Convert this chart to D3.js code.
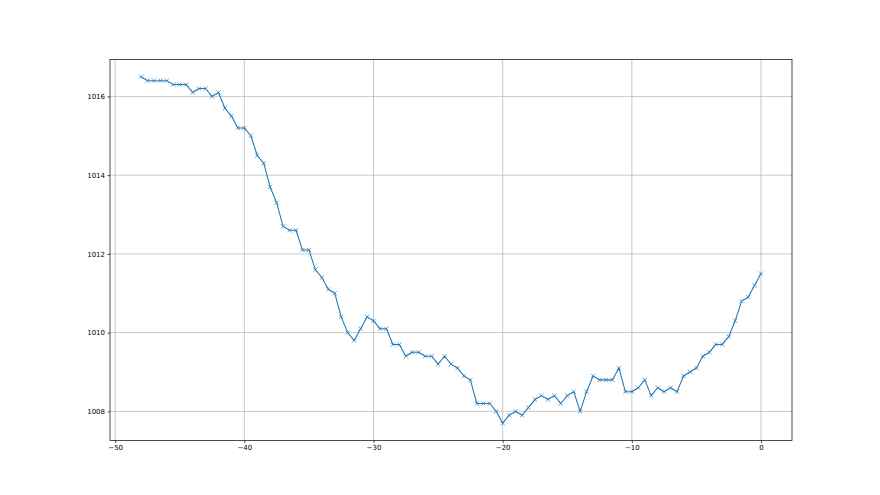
<!DOCTYPE html>
<html>
<head>
<meta charset="utf-8">
<script src="https://cdn.jsdelivr.net/npm/d3@7"></script>
<style>
  html, body { margin: 0; padding: 0; background: #fff; }
  svg text { font-family: "DejaVu Sans", sans-serif; }
</style>
</head>
<body>
<div id="chart"></div>
<script>
// x runs from -48 to 0 in steps of 0.5
const xValues = d3.range(97).map(i => -48 + i * 0.5);
const pressure = [
  1016.5, 1016.4, 1016.4, 1016.4, 1016.4, 1016.3, 1016.3, 1016.3, 1016.1, 1016.2,
  1016.2, 1016.0, 1016.1, 1015.7, 1015.5, 1015.2, 1015.2, 1015.0, 1014.5, 1014.3,
  1013.7, 1013.3, 1012.7, 1012.6, 1012.6, 1012.1, 1012.1, 1011.6, 1011.4, 1011.1,
  1011.0, 1010.4, 1010.0, 1009.8, 1010.1, 1010.4, 1010.3, 1010.1, 1010.1, 1009.7,
  1009.7, 1009.4, 1009.5, 1009.5, 1009.4, 1009.4, 1009.2, 1009.4, 1009.2, 1009.1,
  1008.9, 1008.8, 1008.2, 1008.2, 1008.2, 1008.0, 1007.7, 1007.9, 1008.0, 1007.9,
  1008.1, 1008.3, 1008.4, 1008.3, 1008.4, 1008.2, 1008.4, 1008.5, 1008.0, 1008.5,
  1008.9, 1008.8, 1008.8, 1008.8, 1009.1, 1008.5, 1008.5, 1008.6, 1008.8, 1008.4,
  1008.6, 1008.5, 1008.6, 1008.5, 1008.9, 1009.0, 1009.1, 1009.4, 1009.5, 1009.7,
  1009.7, 1009.9, 1010.3, 1010.8, 1010.9, 1011.2, 1011.5
];
const xTicks = [-50, -40, -30, -20, -10, 0];
const yTicks = [1008, 1010, 1012, 1014, 1016];

const data = xValues.map((x, i) => ({ x: x, y: pressure[i] }));

const width = 880, height = 495;
const margin = { top: 59.4, right: 88, bottom: 54.5, left: 110 };
const innerW = width - margin.left - margin.right;
const innerH = height - margin.top - margin.bottom;

const svg = d3.select("#chart").append("svg")
  .attr("width", width)
  .attr("height", height);

const g = svg.append("g")
  .attr("transform", "translate(" + margin.left + "," + margin.top + ")");

// matplotlib style 5% margins
const xExt = d3.extent(data, d => d.x);
const yExt = d3.extent(data, d => d.y);
const xPad = (xExt[1] - xExt[0]) * 0.05;
const yPad = (yExt[1] - yExt[0]) * 0.05;

const x = d3.scaleLinear()
  .domain([xExt[0] - xPad, xExt[1] + xPad])
  .range([0, innerW]);
const y = d3.scaleLinear()
  .domain([yExt[0] - yPad, yExt[1] + yPad])
  .range([innerH, 0]);

// grid
g.append("g").selectAll("line")
  .data(xTicks).enter().append("line")
  .attr("x1", d => x(d)).attr("x2", d => x(d))
  .attr("y1", 0).attr("y2", innerH)
  .attr("stroke", "#b0b0b0").attr("stroke-width", 0.7);
g.append("g").selectAll("line")
  .data(yTicks).enter().append("line")
  .attr("y1", d => y(d)).attr("y2", d => y(d))
  .attr("x1", 0).attr("x2", innerW)
  .attr("stroke", "#b0b0b0").attr("stroke-width", 0.7);

// axes
const xAxis = g.append("g")
  .attr("transform", "translate(0," + innerH + ")")
  .call(d3.axisBottom(x).tickValues(xTicks).tickSize(2.5).tickPadding(2.5)
    .tickFormat(d => d < 0 ? "\u2212" + Math.abs(d) : d));
const yAxis = g.append("g")
  .call(d3.axisLeft(y).tickValues(yTicks).tickSize(2.5).tickPadding(2.5)
    .tickFormat(d3.format("d")));

[xAxis, yAxis].forEach(a => {
  a.select(".domain").remove();
  a.selectAll("line").attr("stroke", "#000").attr("stroke-width", 0.7);
  a.selectAll("text").attr("fill", "#000").style("font-size", "7px")
    .style("font-family", "'DejaVu Sans', sans-serif");
});

// frame
g.append("rect")
  .attr("x", 0).attr("y", 0)
  .attr("width", innerW).attr("height", innerH)
  .attr("fill", "none")
  .attr("stroke", "#000").attr("stroke-width", 0.7);

// line
const color = "#1f77b4";
g.append("path")
  .datum(data)
  .attr("fill", "none")
  .attr("stroke", color)
  .attr("stroke-width", 1.05)
  .attr("stroke-linejoin", "round")
  .attr("d", d3.line().x(d => x(d.x)).y(d => y(d.y)));

// x markers
const m = 2.1;
const markers = g.append("g");
markers.selectAll("path")
  .data(data).enter().append("path")
  .attr("d", d => {
    const cx = x(d.x), cy = y(d.y);
    return "M" + (cx - m) + "," + (cy - m) + "L" + (cx + m) + "," + (cy + m) +
           "M" + (cx - m) + "," + (cy + m) + "L" + (cx + m) + "," + (cy - m);
  })
  .attr("stroke", color)
  .attr("stroke-width", 0.7)
  .attr("fill", "none");
</script>
</body>
</html>
